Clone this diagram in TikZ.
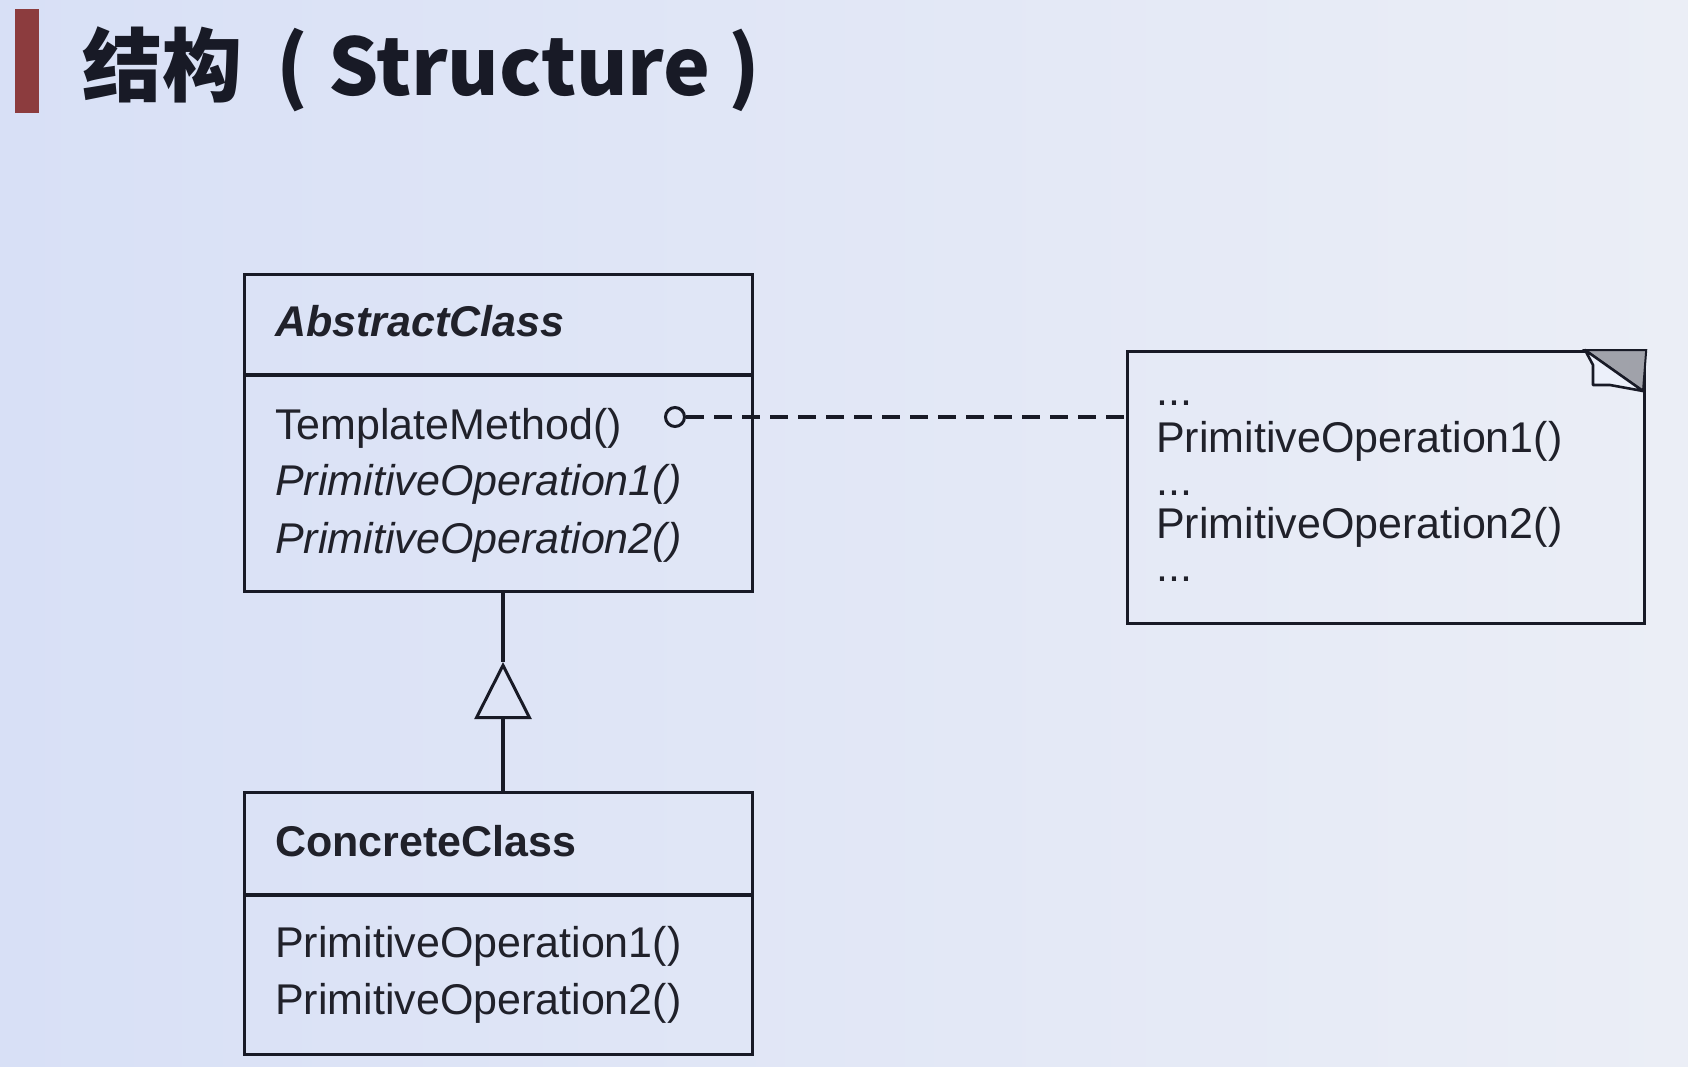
\documentclass[tikz,border=0pt]{standalone}
\usepackage{fontspec}
\setmainfont{Liberation Sans}
\newfontfamily\cjk{Noto Sans CJK SC}
\usetikzlibrary{arrows.meta}
\definecolor{bgl}{RGB}{216,224,246}
\definecolor{bgr}{RGB}{235,238,246}
\definecolor{linec}{RGB}{24,26,38}
\definecolor{textc}{RGB}{32,33,42}
\definecolor{barc}{RGB}{140,60,62}
\definecolor{earc}{RGB}{160,162,170}
\definecolor{flapc}{RGB}{236,240,250}
\begin{document}
\begin{tikzpicture}[x=1pt,y=-1pt,
  boxline/.style={draw=linec, line width=3.2pt},
  classbox/.style={boxline, rectangle, inner sep=0pt, anchor=north west},
  txt/.style={anchor=base west, inner sep=0pt, text=textc, font=\fontsize{43}{50}\selectfont},
  dashline/.style={draw=linec, line width=3.2pt, dash pattern=on 18pt off 10pt},
]
% background
\useasboundingbox (0,0) rectangle (1688,1066);
\shade[left color=bgl, right color=bgr] (0,0) rectangle (1688,1066);
% title bar and title
\fill[barc] (15,9) rectangle (39,113);
\node[anchor=base west, inner sep=0pt, text=linec, font=\cjk\bfseries\fontsize{80}{90}\selectfont] (title) at (82,95) {结构\hspace{34pt}(\hspace{20pt}\fontsize{79}{90}\selectfont Structure\hspace{18pt})};

% AbstractClass
\node[classbox, minimum width=508pt, minimum height=317pt] (abs) at (243,273) {};
\coordinate (d1) at (0,375);
\draw[boxline] (abs.west |- d1) -- (abs.east |- d1);
\node[txt, font=\bfseries\itshape\fontsize{43}{50}\selectfont] (absname) at (275,336) {AbstractClass};
\node[txt] (tm) at (275,439) {TemplateMethod()};
\node[txt, font=\itshape\fontsize{43}{50}\selectfont] (apo1) at (275,495) {PrimitiveOperation1()};
\node[txt, font=\itshape\fontsize{43}{50}\selectfont] (apo2) at (275,553) {PrimitiveOperation2()};

% ConcreteClass
\node[classbox, minimum width=508pt, minimum height=262pt] (conc) at (243,791) {};
\coordinate (d2) at (0,895);
\draw[boxline] (conc.west |- d2) -- (conc.east |- d2);
\node[txt, font=\bfseries\fontsize{43}{50}\selectfont] (concname) at (275,856) {ConcreteClass};
\node[txt] (cpo1) at (275,957) {PrimitiveOperation1()};
\node[txt] (cpo2) at (275,1014) {PrimitiveOperation2()};

% generalization
\coordinate (apex) at (503,662);
\draw[boxline] (abs.south -| apex) -- (apex);
\draw[boxline, -{Triangle[open, length=57pt, width=57pt, line width=3pt]}] (conc.north -| apex) -- (apex);

% note
\node[classbox, minimum width=517pt, minimum height=272pt] (note) at (1126,350) {};
\coordinate (e1) at (1585,350);
\coordinate (e2) at (1643,391);
\fill[earc, draw=linec, line width=2pt] (e1) -- (note.north east) -- (e2) -- cycle;
\filldraw[fill=flapc, draw=linec, line width=2.6pt, line join=round] (e1) -- (1593,365) -- (1593,385) -- (1610,385) -- (e2) -- cycle;
\node[txt] (n1) at (1156,405) {...};
\node[txt] (n2) at (1156,452) {PrimitiveOperation1()};
\node[txt] (n3) at (1156,495) {...};
\node[txt] (n4) at (1156,538) {PrimitiveOperation2()};
\node[txt] (n5) at (1156,581) {...};

% template method link
\node[circle, draw=linec, line width=3pt, minimum size=19pt, inner sep=0pt] (dot) at (675,417) {};
\draw[dashline] (dot.east) -- (note.west |- dot);
\end{tikzpicture}
\end{document}
